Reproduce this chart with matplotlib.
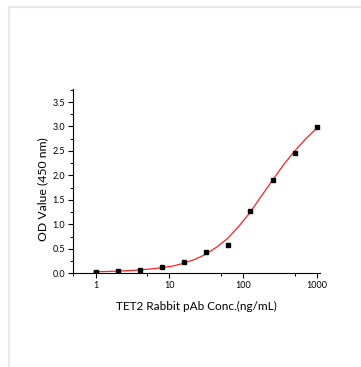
import matplotlib
matplotlib.use("Agg")
import matplotlib.pyplot as plt
import matplotlib.ticker as mticker
from matplotlib.lines import Line2D
import numpy as np

# measured points (ng/mL, OD450)
conc = [1, 2, 4, 8, 16, 31.25, 62.5, 125, 250, 500, 1000]
od = [0.03, 0.04, 0.07, 0.12, 0.23, 0.43, 0.58, 1.27, 1.90, 2.45, 2.99]

# fitted curve
fit_conc = [0.95, 1, 1.41, 2, 2.83, 4, 5.66, 8, 11.3, 16, 22.6, 31.25, 44.2,
            62.5, 88.4, 125, 177, 250, 354, 500, 707, 1000]
fit_od = [0.03, 0.031, 0.037, 0.045, 0.055, 0.07, 0.09, 0.115, 0.15, 0.21, 0.29,
          0.39, 0.54, 0.72, 0.97, 1.25, 1.58, 1.90, 2.22, 2.50, 2.75, 2.97]

plt.rcParams['font.family'] = ['Lato', 'DejaVu Sans']

fig = plt.figure(figsize=(3.61, 3.67), dpi=100)
fig.patch.set_facecolor('white')

# light grey frame on the top and left edge
fig.add_artist(Line2D([8.5 / 361, 1], [1 - 6.5 / 367] * 2, color='#e8e8e8', lw=1.5))
fig.add_artist(Line2D([8.5 / 361] * 2, [0, 1 - 6.5 / 367], color='#e8e8e8', lw=1.5))

ax = fig.add_axes([0.2014, 0.2553, 0.685, 0.5014])
ax.plot(fit_conc, fit_od, color='#ff2020', lw=0.9, zorder=2)
ax.plot(conc, od, 's', color='black', markersize=3.2, zorder=3)

ax.set_xscale('log')
ax.set_xlim(0.49, 1100)
ax.set_ylim(0, 3.76)

ax.xaxis.set_major_locator(mticker.FixedLocator([1, 10, 100, 1000]))
ax.xaxis.set_major_formatter(mticker.FixedFormatter(['1', '10', '100', '1000']))
ax.xaxis.set_minor_locator(mticker.FixedLocator([0.5, 5, 50, 500]))
ax.xaxis.set_minor_formatter(mticker.NullFormatter())
ax.yaxis.set_major_locator(mticker.MultipleLocator(0.5))
ax.yaxis.set_minor_locator(mticker.MultipleLocator(0.25))
ax.yaxis.set_major_formatter(mticker.FormatStrFormatter('%.1f'))

for s in ['top', 'right']:
    ax.spines[s].set_visible(False)
for s in ['left', 'bottom']:
    ax.spines[s].set_linewidth(0.8)

ax.tick_params(which='major', length=3.5, width=0.8, labelsize=6.5, pad=2)
ax.tick_params(which='minor', length=2, width=0.7)

ax.set_xlabel('TET2 Rabbit pAb Conc.(ng/mL)', fontsize=8.5, labelpad=8)
ax.set_ylabel('OD Value (450 nm)', fontsize=8.8)
ax.yaxis.set_label_coords(-0.1, 0.455)

fig.savefig('out.png', dpi=100)
